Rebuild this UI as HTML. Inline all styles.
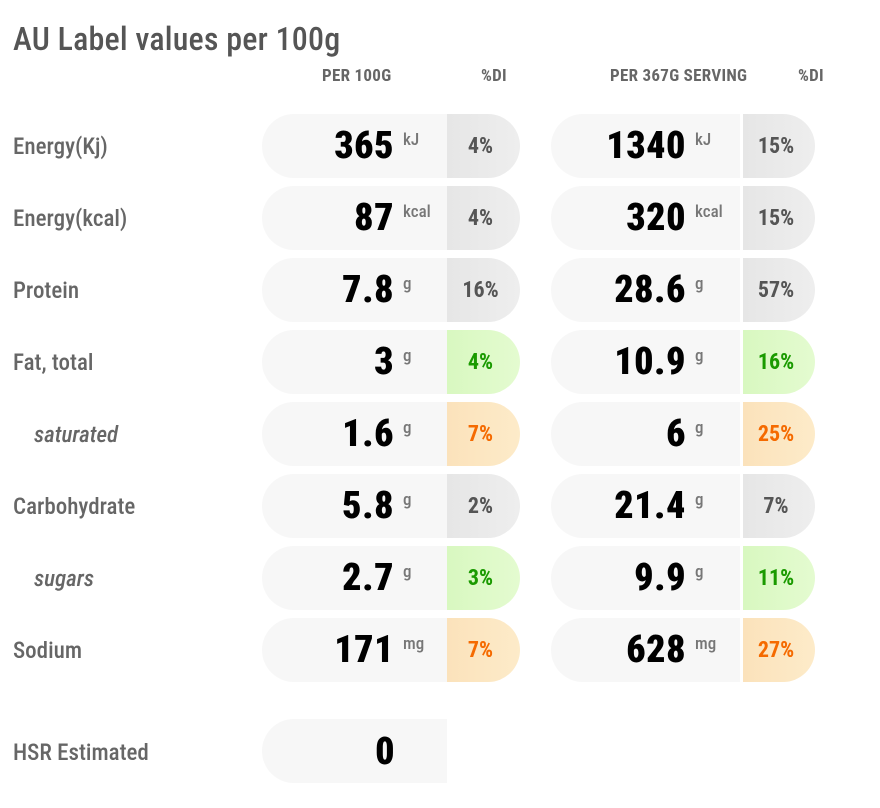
<!DOCTYPE html>
<html><head><style>
*{margin:0;padding:0;box-sizing:border-box}
body{width:880px;height:808px;background:#fff;position:relative;font-family:"Roboto Condensed","Liberation Sans Narrow","Liberation Sans",sans-serif;overflow:hidden}
.a{position:absolute}
.t{left:13px;top:20px;font-size:32px;color:#555;font-weight:500;letter-spacing:0.2px}
.h{font-size:17px;font-weight:bold;color:#666;top:66px;letter-spacing:0.3px}
.l{left:13px;font-size:23px;color:#666;font-weight:500}
.i{font-style:italic;left:34px}
.p{height:64px;background:#f7f7f7;border-radius:32px 0 0 32px}
.d{height:64px;border-radius:0 32px 32px 0;background:linear-gradient(90deg,#e6e6e6,#eeeeee);font-size:22px;font-weight:bold;color:#555;display:flex;align-items:center;justify-content:center;padding-right:6px}
.g{background:linear-gradient(90deg,#d8f8c0,#e4fbd0);color:#1a9a00}
.o{background:linear-gradient(90deg,#fbe2bb,#fdebc9);color:#f56a00}
.v{font-size:38px;font-weight:900;color:#000;text-align:right;width:200px;letter-spacing:0.5px}
.u{font-size:17px;color:#777;font-weight:500}
</style></head><body>
<div class="a t">AU Label values per 100g</div>
<div class="a h" style="left:322px">PER 100G</div>
<div class="a h" style="left:481px">%DI</div>
<div class="a h" style="left:610px">PER 367G SERVING</div>
<div class="a h" style="left:798px">%DI</div>
<div id="rows"></div>
<script>
var R=[["Energy(Kj)","365","kJ","4%","","1340","15%",""],["Energy(kcal)","87","kcal","4%","","320","15%",""],["Protein","7.8","g","16%","","28.6","57%",""],["Fat, total","3","g","4%","g","10.9","16%","g"],["saturated","1.6","g","7%","o","6","25%","o",1],["Carbohydrate","5.8","g","2%","","21.4","7%",""],["sugars","2.7","g","3%","g","9.9","11%","g",1],["Sodium","171","mg","7%","o","628","27%","o"]];
var h="";
R.forEach(function(r,k){var y=114+k*72;
var u=r[2];
h+='<div class="a l'+(r[8]?' i':'')+'" style="top:'+(y+19)+'px">'+r[0]+'</div>';
h+='<div class="a p" style="left:262px;top:'+y+'px;width:185px"></div>';
h+='<div class="a d '+r[4]+'" style="left:447px;top:'+y+'px;width:73px">'+r[3]+'</div>';
h+='<div class="a v" style="left:194px;top:'+(y+10)+'px">'+r[1]+'</div>';
h+='<div class="a u" style="left:403px;top:'+(y+16)+'px">'+u+'</div>';
h+='<div class="a p" style="left:551px;top:'+y+'px;width:189px"></div>';
h+='<div class="a d '+r[7]+'" style="left:743px;top:'+y+'px;width:72px">'+r[6]+'</div>';
h+='<div class="a v" style="left:486px;top:'+(y+10)+'px">'+r[5]+'</div>';
h+='<div class="a u" style="left:695px;top:'+(y+16)+'px">'+u+'</div>';
});
h+='<div class="a l" style="top:739px">HSR Estimated</div>';
h+='<div class="a p" style="left:262px;top:719px;width:185px"></div>';
h+='<div class="a v" style="left:195px;top:730px">0</div>';
document.getElementById("rows").innerHTML=h;
</script>
</body></html>
